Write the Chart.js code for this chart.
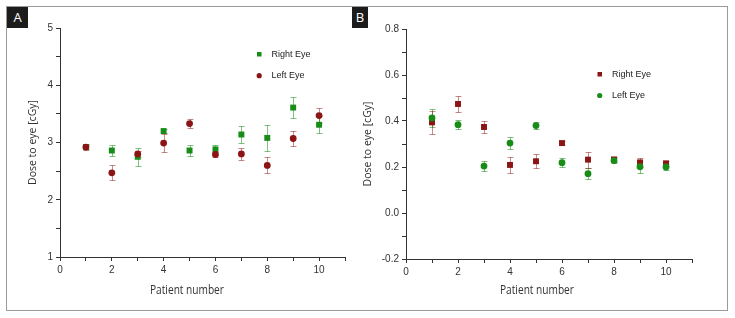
<!DOCTYPE html>
<html>
<head>
<meta charset="utf-8">
<script src="https://cdn.jsdelivr.net/npm/chart.js@4.4.1/dist/chart.umd.min.js"></script>
<style>
  html, body { margin: 0; padding: 0; background: #fff; }
  #wrap { position: relative; width: 735px; height: 318px; overflow: hidden; background: #fff; }
  canvas { position: absolute; left: 0; top: 0; }
  .frame { position: absolute; left: 6px; top: 6px; width: 722px; height: 305px; border: 1.5px solid #9a9a9a; box-sizing: border-box; }
  .tag { position: absolute; top: 7px; height: 21px; background: #1c1c1c; color: #fff; font: 13px "Open Sans", sans-serif; line-height: 21px; text-align: center; }
  .xtitle { position: absolute; top: 281px; width: 140px; text-align: center; font: 13px "Open Sans", sans-serif; line-height: 16px; color: #333; transform: scaleX(0.78); white-space: nowrap; }
</style>
</head>
<body>
<div id="wrap">
  <div class="frame"></div>
  <canvas id="chartA" width="735" height="318"></canvas>
  <canvas id="chartB" width="735" height="318"></canvas>
  <div class="tag" style="left:7px;width:21px;">A</div>
  <div class="tag" style="left:352px;width:16px;">B</div>
  <div class="xtitle" style="left:117px;">Patient number</div>
  <div class="xtitle" style="left:467px;">Patient number</div>
</div>
<script>
// patient ids on the x axis
const patients = [1, 2, 3, 4, 5, 6, 7, 8, 9, 10];

// panel A values (cGy) and error bars
const aRightEye = [2.92, 2.86, 2.75, 3.20, 2.86, 2.88, 3.14, 3.08, 3.61, 3.31];
const aRightErr = [0.04, 0.09, 0.16, 0.04, 0.09, 0.08, 0.14, 0.23, 0.19, 0.15];
const aLeftEye  = [2.92, 2.47, 2.80, 2.99, 3.33, 2.79, 2.80, 2.60, 3.07, 3.47];
const aLeftErr  = [0.05, 0.13, 0.06, 0.15, 0.08, 0.04, 0.11, 0.14, 0.13, 0.13];

// panel B values (cGy) and error bars
const bRightEye = [0.394, 0.474, 0.374, 0.209, 0.225, 0.304, 0.232, 0.233, 0.220, 0.216];
const bRightErr = [0.050, 0.033, 0.025, 0.035, 0.030, 0.008, 0.035, 0.010, 0.020, 0.010];
const bLeftEye  = [0.413, 0.384, 0.204, 0.304, 0.380, 0.219, 0.171, 0.228, 0.201, 0.200];
const bLeftErr  = [0.040, 0.020, 0.020, 0.025, 0.015, 0.020, 0.025, 0.010, 0.025, 0.015];

// labelled ticks
const xTickLabels = [0, 2, 4, 6, 8, 10];
const aYTickLabels = [1, 2, 3, 4, 5];
const bYTickLabels = [-0.2, 0.0, 0.2, 0.4, 0.6, 0.8];

const GREEN = '#178c17';
const RED = '#8b1515';
const GREEN_ERR = 'rgba(23,140,23,0.55)';
const RED_ERR = 'rgba(139,21,21,0.5)';

const tickFont = { family: '"Liberation Sans", Arial, sans-serif', size: 10 };
const titleFont = { family: '"Open Sans", sans-serif', size: 10.5 };

function toPoints(vals) {
  return patients.map((p, i) => ({ x: p, y: vals[i] }));
}

// error bars drawn under the markers
const errorBars = {
  id: 'errorBars',
  beforeDatasetsDraw(chart) {
    const { ctx, scales: { x, y } } = chart;
    chart.data.datasets.forEach((ds) => {
      if (!ds.errors) return;
      ctx.save();
      ctx.strokeStyle = ds.errorColor;
      ctx.lineWidth = 1;
      ds.data.forEach((p, i) => {
        const px = Math.round(x.getPixelForValue(p.x)) + 0.5;
        const top = Math.round(y.getPixelForValue(p.y + ds.errors[i])) + 0.5;
        const bot = Math.round(y.getPixelForValue(p.y - ds.errors[i])) + 0.5;
        ctx.beginPath();
        ctx.moveTo(px, top); ctx.lineTo(px, bot);
        ctx.moveTo(px - 3, top); ctx.lineTo(px + 3, top);
        ctx.moveTo(px - 3, bot); ctx.lineTo(px + 3, bot);
        ctx.stroke();
      });
      ctx.restore();
    });
  }
};

// small legend inside the plot
const eyeLegend = {
  id: 'eyeLegend',
  afterDraw(chart, args, opts) {
    const { ctx } = chart;
    ctx.save();
    ctx.font = '9px "Liberation Sans", Arial, sans-serif';
    ctx.textBaseline = 'middle';
    opts.items.forEach((it, i) => {
      const cy = opts.y + i * opts.gap;
      ctx.fillStyle = it.color;
      if (it.style === 'rect') {
        ctx.fillRect(opts.x - 2, cy - 2, 4.5, 4.5);
      } else {
        ctx.beginPath();
        ctx.arc(opts.x + 0.2, cy + 0.2, 2.6, 0, Math.PI * 2);
        ctx.fill();
      }
      ctx.fillStyle = '#222';
      ctx.fillText(it.label, opts.x + 12.5, cy + 0.5);
    });
    ctx.restore();
  }
};

function makeChart(id, cfg) {
  return new Chart(document.getElementById(id), {
    type: 'scatter',
    data: { datasets: cfg.datasets },
    options: {
      responsive: false,
      animation: false,
      devicePixelRatio: 1,
      layout: { padding: cfg.padding },
      plugins: {
        legend: { display: false },
        tooltip: { enabled: false },
        eyeLegend: cfg.legend
      },
      scales: {
        x: {
          type: 'linear',
          min: 0,
          max: 11,
          ticks: {
            stepSize: 1,
            autoSkip: false,
            maxRotation: 0,
            padding: 3,
            color: '#333',
            font: tickFont,
            callback: (v) => (xTickLabels.includes(v) ? String(v) : '')
          },
          grid: { drawOnChartArea: false, tickLength: 4, color: '#333' },
          border: { color: '#333', width: 1 },
          afterFit(s) { s.height = cfg.xHeight; }
        },
        y: {
          type: 'linear',
          min: cfg.yMin,
          max: cfg.yMax,
          ticks: {
            stepSize: cfg.yStep,
            autoSkip: false,
            padding: 3,
            color: '#333',
            font: tickFont,
            callback: cfg.yLabel
          },
          grid: { drawOnChartArea: false, tickLength: 4, color: '#333' },
          border: { color: '#333', width: 1 },
          title: {
            display: true,
            text: 'Dose to eye [cGy]',
            color: '#333',
            font: titleFont,
            padding: { top: cfg.titlePad, bottom: 0 }
          },
          afterFit(s) { s.width = cfg.yWidth; }
        }
      }
    },
    plugins: [errorBars, eyeLegend]
  });
}

// Panel A: right eye green squares, left eye red circles
makeChart('chartA', {
  padding: { left: 0, top: 28, right: 390, bottom: 20 },
  xHeight: 41,
  yWidth: 60,
  titlePad: 26.7,
  yMin: 1, yMax: 5, yStep: 0.5,
  yLabel: (v) => (aYTickLabels.includes(v) ? String(v) : ''),
  legend: {
    x: 259, y: 54, gap: 21.5,
    items: [
      { label: 'Right Eye', color: GREEN, style: 'rect' },
      { label: 'Left Eye', color: RED, style: 'circle' }
    ]
  },
  datasets: [
    {
      label: 'Left Eye', data: toPoints(aLeftEye), errors: aLeftErr, errorColor: RED_ERR,
      pointStyle: 'circle', pointRadius: 3.4, backgroundColor: RED, borderWidth: 0
    },
    {
      label: 'Right Eye', data: toPoints(aRightEye), errors: aRightErr, errorColor: GREEN_ERR,
      pointStyle: 'rect', pointRadius: 4.2, backgroundColor: GREEN, borderWidth: 0
    }
  ]
});

// Panel B: right eye red squares, left eye green circles
makeChart('chartB', {
  padding: { left: 340, top: 29, right: 43, bottom: 20 },
  xHeight: 39,
  yWidth: 66,
  titlePad: 21.7,
  yMin: -0.2, yMax: 0.8, yStep: 0.1,
  yLabel: (v) => {
    const k = Math.round(v * 10);
    return k % 2 === 0 ? (k / 10).toFixed(1) : '';
  },
  legend: {
    x: 599.5, y: 74, gap: 21.3,
    items: [
      { label: 'Right Eye', color: RED, style: 'rect' },
      { label: 'Left Eye', color: GREEN, style: 'circle' }
    ]
  },
  datasets: [
    {
      label: 'Left Eye', data: toPoints(bLeftEye), errors: bLeftErr, errorColor: GREEN_ERR,
      pointStyle: 'circle', pointRadius: 3.4, backgroundColor: GREEN, borderWidth: 0
    },
    {
      label: 'Right Eye', data: toPoints(bRightEye), errors: bRightErr, errorColor: RED_ERR,
      pointStyle: 'rect', pointRadius: 4.2, backgroundColor: RED, borderWidth: 0
    }
  ]
});
</script>
</body>
</html>
